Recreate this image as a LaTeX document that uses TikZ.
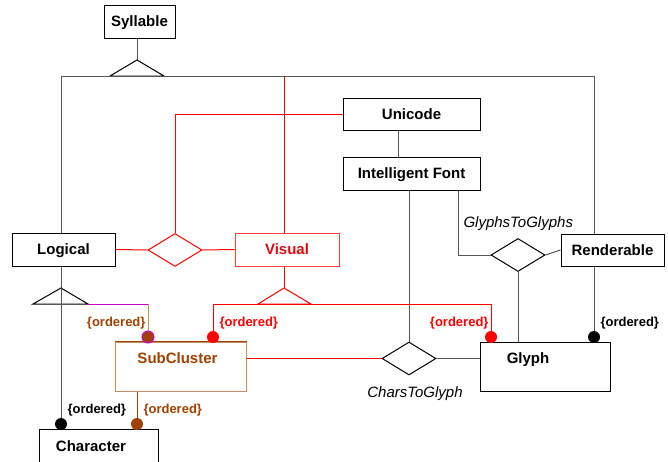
\documentclass[tikz,border=0pt]{standalone}
\usepackage{fontspec}
\setmainfont{Liberation Sans}
\usetikzlibrary{shapes.geometric}

\definecolor{clred}{RGB}{255,0,0}
\definecolor{clvis}{RGB}{215,10,20}
\definecolor{clbrown}{RGB}{160,64,0}
\definecolor{cltan}{RGB}{200,140,100}
\definecolor{clmag}{RGB}{204,0,204}
\definecolor{clgrey}{RGB}{85,85,85}

\begin{document}
\begin{tikzpicture}[x=1pt,y=-1pt,line width=1pt,
  cls/.style={draw,inner sep=0pt,text height=10.8pt,text depth=0pt,font=\fontsize{15}{17}\selectfont\bfseries},
  rel/.style={draw,diamond,inner sep=0pt,minimum width=54pt,minimum height=33pt},
  blob/.style={circle,inner sep=0pt,minimum size=12pt},
  ord/.style={inner sep=0pt,text height=9.4pt,text depth=0pt,font=\fontsize{13}{15}\selectfont\bfseries},
  relname/.style={inner sep=0pt,text height=10.8pt,text depth=0pt,font=\fontsize{15}{17}\selectfont\itshape},
  gline/.style={clgrey},
  rline/.style={clred}]

  \useasboundingbox (0,0) rectangle (668,461);

  \node[cls,minimum width=71pt,minimum height=33pt] (syllable) at (139.5,21.5) {Syllable};
  \node[cls,minimum width=137pt,minimum height=32pt] (unicode) at (411.5,114) {Unicode};
  \node[cls,minimum width=137pt,minimum height=33pt] (ifont) at (411.5,173.5) {Intelligent Font};
  \node[cls,minimum width=103pt,minimum height=33pt] (logical) at (63.5,249.5) {Logical};
  \node[cls,minimum width=104pt,minimum height=33pt,draw=clred!75,text=clvis] (visual) at (287,249.5) {Visual};
  \node[cls,minimum width=103pt,minimum height=32pt] (renderable) at (612.5,250) {Renderable};

  \node[draw=cltan,minimum width=131pt,minimum height=49pt,inner sep=0pt] (subcl) at (180.5,366.5) {};
  \draw[clbrown] (subcl.north west) -- (subcl.north east);
  \node[cls,draw=none,text=clbrown] (subcltxt) at (177.5,358) {SubCluster};
  \node[draw,minimum width=130pt,minimum height=49pt,inner sep=0pt] (glyph) at (545,366.5) {};
  \node[cls,draw=none] (glyphtxt) at (528,358) {Glyph};
  \node[draw,minimum width=119pt,minimum height=49pt,inner sep=0pt] (character) at (98.5,453.5) {};
  \node[cls,draw=none] (chartxt) at (91,446) {Character};

  \node[rel,clred] (lvrel) at (175,250) {};
  \node[rel] (g2g) at (518,255) {};
  \node[rel] (c2g) at (409,358.5) {};
  \node[relname,anchor=west] (g2gname) at (463,222) {GlyphsToGlyphs};
  \node[relname] (c2gname) at (415,392) {CharsToGlyph};

  \node[blob,fill=clbrown,draw=clmag] (scdot) at (148,337) {};
  \node[blob,fill=clred] (scdotv) at (213,337) {};
  \node[blob,fill=clred] (gldotv) at (491,337) {};
  \node[blob,fill=black] (gldotr) at (594,337) {};
  \node[blob,fill=black] (chdotl) at (61,424) {};
  \node[blob,fill=clbrown] (chdots) at (137,424) {};

  \node[ord,text=clbrown,anchor=east] (ord1) at (146,322) {\{ordered\}};
  \node[ord,text=clred,anchor=west] (ord2) at (219,322) {\{ordered\}};
  \node[ord,text=clred,anchor=east] (ord3) at (489,322) {\{ordered\}};
  \node[ord,anchor=west] (ord4) at (600,322) {\{ordered\}};
  \node[ord,anchor=west] (ord5) at (67,409) {\{ordered\}};
  \node[ord,text=clbrown,anchor=west] (ord6) at (143,409) {\{ordered\}};

  % generalisation triangles
  \coordinate (syltri) at (137,60);
  \coordinate (logtri) at (61,288);
  \coordinate (vistri) at (284,288);
  \coordinate (barL) at (61,76);
  \coordinate (barR) at (594,76);
  \coordinate (redtop) at (284,76);

  \draw[gline] (syltri |- syllable.south) -- (syltri);
  \draw[black] (syltri) -- ++(-27,16) -- ++(54,0) -- cycle;
  \draw[gline] (logical.north -| barL) -- (barL) -- (barR) -- (renderable.north -| barR);
  \draw[rline] (redtop) -- (visual.north -| redtop);
  \draw[rline] (unicode.west) -| (lvrel.north);
  \draw[rline] (logical.east) -- (lvrel.west);
  \draw[rline] (lvrel.east) -- (visual.west);

  \draw[gline] ([xshift=-13.5pt]unicode.south) -- ([xshift=-13.5pt]ifont.north);
  \draw[gline] (c2g.north |- ifont.south) -- (c2g.north);
  \draw[gline] (g2g.west) -| ([xshift=46.5pt]ifont.south);
  \draw[gline] (g2g.east) -- (renderable.west);
  \draw[gline] (g2g.south) -- (g2g.south |- glyph.north);
  \draw[gline] (barR |- renderable.south) -- (gldotr);
  \draw[gline] (c2g.east) -- (c2g.east -| glyph.west);
  \draw[rline] (c2g.west -| subcl.east) -- (c2g.west);

  \draw[gline] (logtri |- logical.south) -- (logtri);
  \draw[black] (logtri) -- ++(-28,16) -- ++(55,0) -- cycle;
  \draw[gline] (logtri) -- (chdotl);
  \draw[clmag] (88,304) -- (148,304);
  \draw[cltan] (148,304) -- (scdot);

  \draw[rline] (vistri |- visual.south) -- (vistri);
  \draw[rline] (vistri) -- ++(-26,16) -- ++(53,0) -- cycle;
  \draw[rline] (scdotv) -- (213,304) -- (491,304) -- (gldotv);

  \draw[clbrown] (chdots |- subcl.south) -- (chdots);
\end{tikzpicture}
\end{document}
